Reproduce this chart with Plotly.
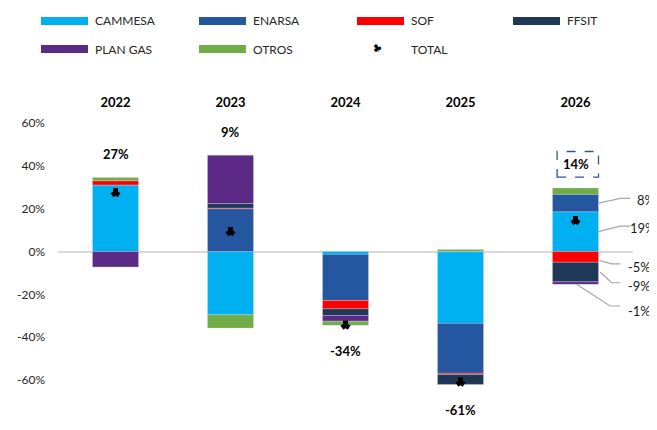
import plotly.graph_objects as go

# ---------------- data ----------------
years = ["2022", "2023", "2024", "2025", "2026"]
cammesa = [31.1, -29.5, -1.3, -33.5, 18.6]
enarsa = [0.0, 20.0, -21.5, -23.3, 8.1]
sof = [2.0, 0.3, -3.9, -0.6, -5.0]
ffsit = [0.0, 2.1, -3.1, -4.6, -9.1]
plan_gas = [-7.2, 22.5, -2.7, 0.0, -1.2]
otros = [1.5, -6.2, -1.9, 1.0, 3.0]
y_ticks = [60, 40, 20, 0, -20, -40, -60, -80]

series_names = ["CAMMESA", "ENARSA", "SOF", "FFSIT", "PLAN GAS", "OTROS"]
series_vals = [cammesa, enarsa, sof, ffsit, plan_gas, otros]
colors = ["#00B0F0", "#2457A0", "#FF0000", "#1F3857", "#5B2A86", "#70AD47"]

FONT = "Lato"
N = len(years)
totals = [sum(s[i] for s in series_vals) for i in range(N)]
pos_top = [sum(s[i] for s in series_vals if s[i] > 0) for i in range(N)]
neg_bot = [sum(s[i] for s in series_vals if s[i] < 0) for i in range(N)]

TOTAL_MARKER = dict(symbol="y-up", size=6, color="black", line=dict(color="black", width=5))

fig = go.Figure()
for name, vals, c in zip(series_names, series_vals, colors):
    fig.add_trace(go.Bar(
        x=years, y=vals, name=name,
        marker=dict(color=c, line=dict(color="rgba(225,220,240,0.7)", width=0.4)),
        width=0.4, showlegend=False, hoverinfo="skip"))

fig.add_trace(go.Scatter(
    x=years, y=totals, mode="markers", name="TOTAL", showlegend=False,
    marker=TOTAL_MARKER))

annotations = []
shapes = []

# total labels
for i in range(N):
    lbl = f"{round(totals[i])}%"
    if totals[i] >= 0:
        y = pos_top[i] + 11
    else:
        y = neg_bot[i] - 12
    annotations.append(dict(x=i, y=y, xref="x", yref="y", text=f"<b>{lbl}</b>", showarrow=False,
                            font=dict(family=FONT, size=13, color="black"), xanchor="center", yanchor="middle"))
    if i == N - 1:
        shapes.append(dict(type="rect", xref="x", yref="y", x0=i - 0.16, x1=i + 0.2, y0=y - 6.0, y1=y + 6.0,
                           line=dict(color="#2F5597", width=1.3, dash="dash"), fillcolor="rgba(0,0,0,0)"))

# callouts for the last year
last = N - 1
def seg(series_idx):
    v = series_vals[series_idx][last]
    base = 0.0
    for k in range(series_idx):
        w = series_vals[k][last]
        if (w > 0) == (v > 0) and w != 0:
            base += w
    return base, base + v

callouts = [
    # series idx, frac along segment, start x, elbow x, elbow dy, end x, label x, label xshift(px), label dy
    (1, 0.5, 4.2, 4.39, 2.2, 4.475, 4.49, 3, -0.8),
    (0, 0.5, 4.2, 4.39, 2.6, 4.475, 4.46, 0, -0.9),
    (2, 0.85, 4.213, 4.314, -1.5, 4.39, 4.44, 0, -1.5),
    (3, 0.5, 4.213, 4.314, -5.0, 4.39, 4.44, 0, -1.5),
    (4, 1.0, 4.01, 4.30, -10.1, 4.39, 4.44, 0, -2.4),
]
for si, frac, sx, ex, edy, endx, lx, lxs, ldy in callouts:
    b, t = seg(si)
    sy = b + (t - b) * frac
    ey = sy + edy
    shapes.append(dict(type="path", xref="x", yref="y",
                       path=f"M {sx},{sy} L {ex},{ey} L {endx},{ey}",
                       line=dict(color="#A6A6A6", width=1.2)))
    annotations.append(dict(x=lx, y=ey + ldy, xref="x", yref="y", xshift=lxs,
                            text=f"{round(series_vals[si][last])}%",
                            showarrow=False, xanchor="left", yanchor="middle",
                            font=dict(family=FONT, size=13, color="#1a1a1a")))

# manual legend (paper coords; page pixels: plot area x 58..633, y 123..423)
def px2x(px):
    return (px - 58) / 575
def py2y(py):
    return (423 - py) / 300

legend_items = [
    ("CAMMESA", 0, 41, 21), ("ENARSA", 1, 199, 21), ("SOF", 2, 357, 21), ("FFSIT", 3, 513, 21),
    ("PLAN GAS", 4, 41, 49), ("OTROS", 5, 199, 49),
]
for name, ci, x0, yc in legend_items:
    shapes.append(dict(type="rect", xref="paper", yref="paper", x0=px2x(x0), x1=px2x(x0 + 47),
                       y0=py2y(yc + 4), y1=py2y(yc - 4), fillcolor=colors[ci], line=dict(width=0)))
    annotations.append(dict(x=px2x(x0 + 52), y=py2y(yc), xref="paper", yref="paper", text=name,
                            showarrow=False, xanchor="left", yanchor="middle",
                            font=dict(family=FONT, size=12, color="#262626")))
annotations.append(dict(x=px2x(409), y=py2y(49), xref="paper", yref="paper", text="TOTAL",
                        showarrow=False, xanchor="left", yanchor="middle",
                        font=dict(family=FONT, size=12, color="#262626")))
annotations.append(dict(x=px2x(377), y=py2y(48), xref="paper", yref="paper", text="♣",
                        showarrow=False, xanchor="center", yanchor="middle", textangle=-30,
                        font=dict(family="DejaVu Sans", size=11, color="black")))

# the page body has an 8px margin: figure is drawn 8px in and 8px down
fig.update_layout(
    barmode="relative",
    width=649, height=422,
    margin=dict(l=50, r=24, t=115, b=7),
    plot_bgcolor="white", paper_bgcolor="white",
    font=dict(family=FONT, size=12, color="#404040"),
    annotations=annotations, shapes=shapes,
    xaxis=dict(type="category", side="top", showgrid=False, showline=False, zeroline=False,
               ticks="", ticklabelstandoff=12, automargin=False,
               tickfont=dict(family=FONT, size=13, color="black", weight="bold"), range=[-0.5, 4.5]),
    yaxis=dict(range=[-80, 60], tickvals=y_ticks, ticktext=[f"{v}%" for v in y_ticks],
               showgrid=False, zeroline=True, zerolinecolor="#D9D9D9", zerolinewidth=1.5,
               showline=False, ticks="", ticklabelstandoff=12, automargin=False,
               tickfont=dict(family=FONT, size=12, color="#262626")),
)

fig.write_html("out.html")
